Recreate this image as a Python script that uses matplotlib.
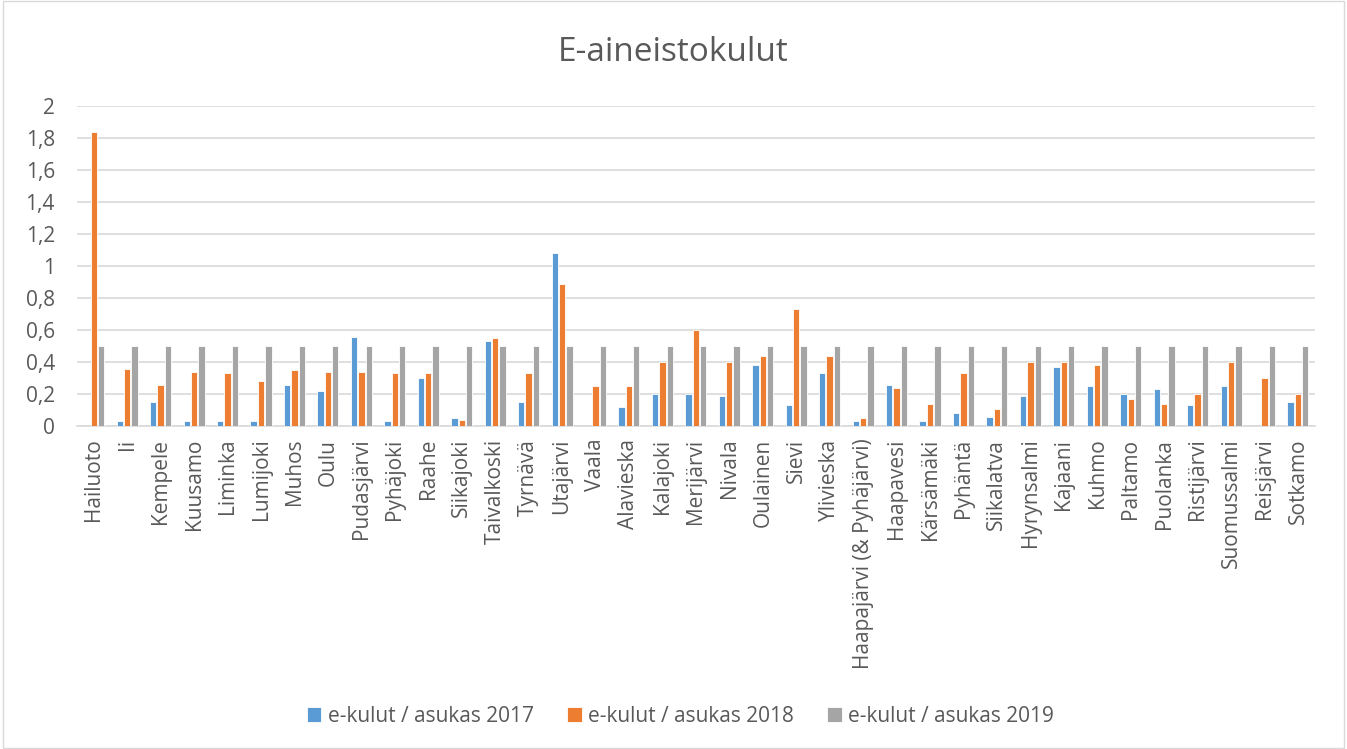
import matplotlib
matplotlib.use("Agg")
import matplotlib.pyplot as plt
import numpy as np
from matplotlib.ticker import FuncFormatter
from matplotlib.patches import Rectangle

categories = ["Hailuoto", "Ii", "Kempele", "Kuusamo", "Liminka", "Lumijoki", "Muhos", "Oulu",
              "Pudasjärvi", "Pyhäjoki", "Raahe", "Siikajoki", "Taivalkoski", "Tyrnävä", "Utajärvi",
              "Vaala", "Alavieska", "Kalajoki", "Merijärvi", "Nivala", "Oulainen", "Sievi",
              "Ylivieska", "Haapajärvi (& Pyhäjärvi)", "Haapavesi", "Kärsämäki", "Pyhäntä",
              "Siikalatva", "Hyrynsalmi", "Kajaani", "Kuhmo", "Paltamo", "Puolanka", "Ristijärvi",
              "Suomussalmi", "Reisjärvi", "Sotkamo"]

v2017 = [0, 0.03, 0.15, 0.03, 0.03, 0.03, 0.26, 0.22, 0.56, 0.03, 0.30, 0.05, 0.53, 0.15, 1.08,
         0, 0.12, 0.20, 0.20, 0.19, 0.38, 0.13, 0.33, 0.03, 0.26, 0.03, 0.08, 0.06, 0.19, 0.37,
         0.25, 0.20, 0.23, 0.13, 0.25, 0, 0.15]
v2018 = [1.84, 0.36, 0.26, 0.34, 0.33, 0.28, 0.35, 0.34, 0.34, 0.33, 0.33, 0.04, 0.55, 0.33, 0.89,
         0.25, 0.25, 0.40, 0.60, 0.40, 0.44, 0.73, 0.44, 0.05, 0.24, 0.14, 0.33, 0.11, 0.40, 0.40,
         0.38, 0.17, 0.14, 0.20, 0.40, 0.30, 0.20]
v2019 = [0.5] * 37

series_names = ["e-kulut / asukas 2017", "e-kulut / asukas 2018", "e-kulut / asukas 2019"]
colors = ["#5B9BD5", "#ED7D31", "#A5A5A5"]
text_color = "#595959"

plt.rcParams['font.family'] = ['Open Sans', 'DejaVu Sans']

fig = plt.figure(figsize=(13.47, 7.49), dpi=100)
ax = fig.add_axes([0.0572, 0.431, 0.9188, 0.427])

x = np.arange(len(categories))
step = 0.22
width = 0.19
for i, (vals, c, name) in enumerate(zip([v2017, v2018, v2019], colors, series_names)):
    ax.bar(x + (i - 1) * step, vals, width=width, color=c, label=name,
           edgecolor="white", linewidth=0.6, zorder=3)

ax.set_xlim(-0.5, len(categories) - 0.5)
ax.set_ylim(0, 2)
ax.set_yticks(np.arange(0, 2.01, 0.2))
ax.yaxis.set_major_formatter(FuncFormatter(lambda v, p: ("%g" % round(v, 1)).replace(".", ",")))
ax.grid(axis="y", color="#D9D9D9", linewidth=1.2, zorder=0)
ax.set_axisbelow(True)
for s in ["top", "right", "left"]:
    ax.spines[s].set_visible(False)
ax.spines["bottom"].set_color("#D9D9D9")
ax.spines["bottom"].set_linewidth(1.2)
ax.tick_params(axis="both", length=0, colors=text_color, labelsize=15)
ax.tick_params(axis="y", pad=16)
ax.tick_params(axis="x", pad=9)
ax.set_xticks(x)
ax.set_xticklabels(categories, rotation=90)

fig.text(0.5, 0.93, "E-aineistokulut", ha="center", va="center", fontsize=24, color=text_color)

leg = fig.legend(loc="center", bbox_to_anchor=(0.505, 0.044), ncol=3, frameon=False,
                 fontsize=15, handlelength=0.7, handleheight=0.7, handletextpad=0.3,
                 columnspacing=1.6, labelcolor=text_color)

fig.patches.append(Rectangle((0.002, 0.002), 0.996, 0.996, transform=fig.transFigure,
                             fill=False, edgecolor="#D9D9D9", linewidth=1))

fig.savefig("out.png", dpi=100)
